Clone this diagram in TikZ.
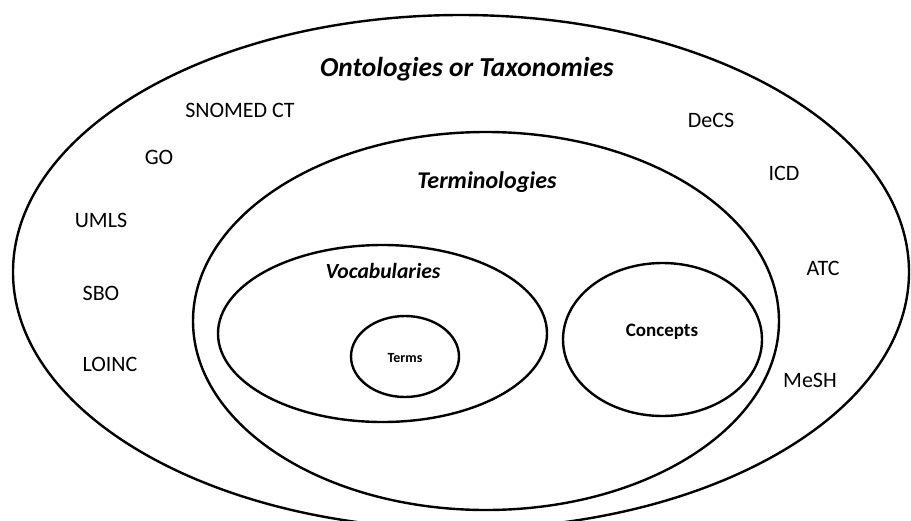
\documentclass[tikz,border=0pt]{standalone}
\usepackage{fontspec}
\setmainfont{Carlito}
\usetikzlibrary{shapes.geometric}

\begin{document}
\begin{tikzpicture}[x=0.5pt, y=-0.5pt,
    setnode/.style={ellipse, draw=black, line width=1.2pt, inner sep=0pt},
    titlelabel/.style={anchor=base, inner sep=0pt},
    codelabel/.style={anchor=base, inner sep=0pt, font=\fontsize{11}{13}\selectfont}]
        \useasboundingbox (0,0) rectangle (911,520);

        % Sets
        \node[setnode, minimum width=448pt, minimum height=257pt] (onto) at (461,272) {};
        \node[setnode, minimum width=293pt, minimum height=189pt] (termin) at (486,321) {};
        \node[setnode, minimum width=164.5pt, minimum height=88.5pt] (vocab) at (382.5,333.5) {};
        \node[setnode, minimum width=54pt, minimum height=40.5pt] (terms) at (405,356.5) {};
        \node[setnode, minimum width=99.5pt, minimum height=76.5pt] (concepts) at (662.5,339.5) {};

        % Titles
        \node[titlelabel, font=\bfseries\itshape\fontsize{13.7}{16}\selectfont] (ontotitle) at (467,76) {Ontologies or Taxonomies};
        \node[titlelabel, font=\bfseries\itshape\fontsize{12}{14}\selectfont] (termintitle) at (487,188) {Terminologies};
        \node[titlelabel, font=\bfseries\itshape\fontsize{10.8}{13}\selectfont] (vocabtitle) at (383,278) {Vocabularies};
        \node[titlelabel, font=\bfseries\fontsize{7}{8}\selectfont] (termstitle) at (405,362) {Terms};
        \node[titlelabel, font=\bfseries\fontsize{9.5}{11}\selectfont] (conceptstitle) at (662,336) {Concepts};

        % Examples
        \node[codelabel] (snomed) at (240,117) {SNOMED CT};
        \node[codelabel] (go) at (159,164) {GO};
        \node[codelabel] (umls) at (101,227) {UMLS};
        \node[codelabel] (sbo) at (101,300) {SBO};
        \node[codelabel] (loinc) at (110,371) {LOINC};
        \node[codelabel] (decs) at (711,127) {DeCS};
        \node[codelabel] (icd) at (784,180) {ICD};
        \node[codelabel] (atc) at (823,275) {ATC};
        \node[codelabel] (mesh) at (810,387) {MeSH};
    \end{tikzpicture}
\end{document}
